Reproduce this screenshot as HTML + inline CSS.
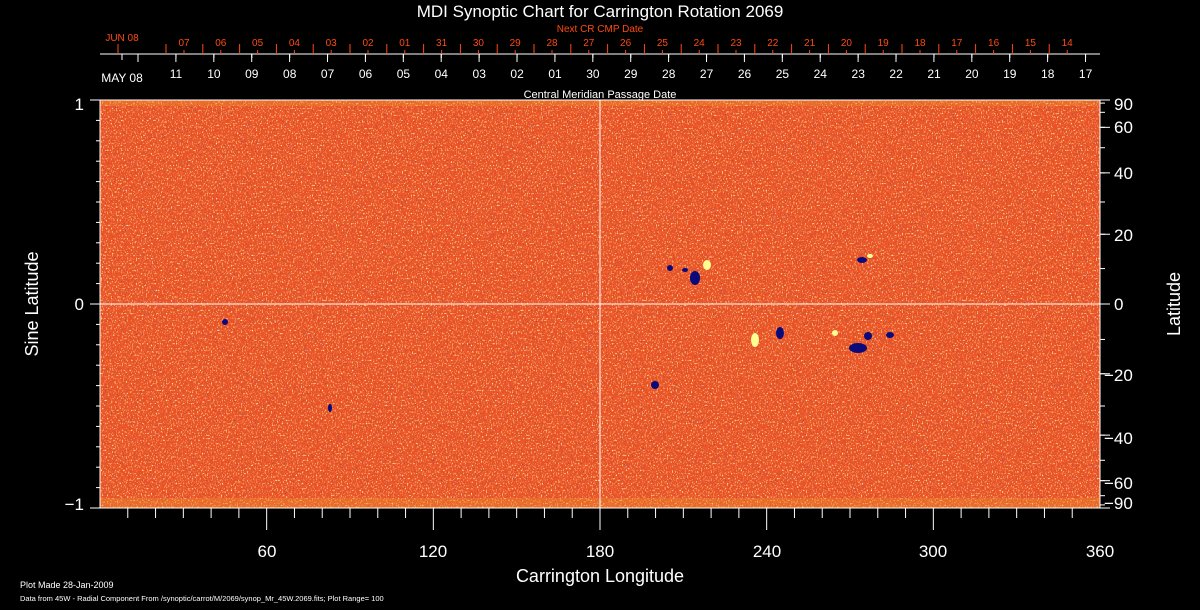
<!DOCTYPE html>
<html><head><meta charset="utf-8"><style>
html,body{margin:0;padding:0;background:#000;}
svg{display:block;font-family:"Liberation Sans",sans-serif;}
</style></head><body>
<svg width="1200" height="610" viewBox="0 0 1200 610" xmlns="http://www.w3.org/2000/svg">
<defs>
<filter id="n" x="0" y="0" width="100%" height="100%">
<feTurbulence type="fractalNoise" baseFrequency="0.6 0.4" numOctaves="2" seed="4"/>
<feColorMatrix type="matrix" values="0 0 0 0 0.85  0 0 0 0 0.1  0 0 0 0 0.03  6 0 0 0 -2.6"/>
</filter>
<filter id="y" x="0" y="0" width="100%" height="100%">
<feTurbulence type="fractalNoise" baseFrequency="0.8 0.6" numOctaves="1" seed="9"/>
<feColorMatrix type="matrix" values="0 0 0 0 1  0 0 0 0 0.8  0 0 0 0 0.3  0 5 0 0 -2.8"/>
</filter>
<filter id="b" x="0" y="0" width="100%" height="100%">
<feTurbulence type="fractalNoise" baseFrequency="0.9 0.7" numOctaves="1" seed="21"/>
<feColorMatrix type="matrix" values="0 0 0 0 0.05  0 0 0 0 0.05  0 0 0 0 0.5  0 0 6 0 -4.0"/>
</filter>
</defs>
<rect width="1200" height="610" fill="#000"/>
<text x="600" y="17" fill="#fff" font-size="17" text-anchor="middle">MDI Synoptic Chart for Carrington Rotation 2069</text>
<text x="600" y="32" fill="#ff4a10" font-size="10" text-anchor="middle">Next CR CMP Date</text>
<text x="122" y="41" fill="#ff4a10" font-size="10" text-anchor="middle">JUN 08</text>
<line x1="100" y1="54" x2="1100" y2="54" stroke="#fff"/>
<g id="gtop" fill="#ff4a10" font-size="10" text-anchor="middle"></g>
<g id="topt" stroke="#ff4a10"></g>
<g id="gbot" fill="#fff" font-size="12" text-anchor="middle"></g>
<g id="bott" stroke="#fff"></g>
<text x="122" y="82" fill="#fff" font-size="12" text-anchor="middle">MAY 08</text>
<text x="600" y="98" fill="#fff" font-size="11" text-anchor="middle">Central Meridian Passage Date</text>
<rect x="100" y="100" width="1000" height="408" fill="#e85020"/>
<rect x="100" y="100" width="1000" height="408" filter="url(#n)"/>
<rect x="100" y="100" width="1000" height="408" filter="url(#y)"/>
<rect x="100" y="100" width="1000" height="408" filter="url(#b)"/>
<rect x="100" y="100" width="1000" height="6" fill="#f0a030" opacity="0.3"/>
<rect x="100" y="498" width="1000" height="10" fill="#f0a030" opacity="0.3"/>
<g fill="#0a0a7a">
<ellipse cx="695" cy="278" rx="5" ry="7"/><ellipse cx="670" cy="268" rx="3" ry="3"/><ellipse cx="685" cy="270" rx="3" ry="2"/>
<ellipse cx="862" cy="260" rx="5" ry="3"/><ellipse cx="780" cy="333" rx="4" ry="6"/>
<ellipse cx="858" cy="348" rx="9" ry="5"/><ellipse cx="868" cy="336" rx="4" ry="4"/><ellipse cx="890" cy="335" rx="4" ry="3"/>
<ellipse cx="330" cy="408" rx="2" ry="4"/><ellipse cx="655" cy="385" rx="4" ry="4"/><ellipse cx="225" cy="322" rx="3" ry="3"/>
</g>
<g fill="#ffff90">
<ellipse cx="707" cy="265" rx="4" ry="5"/><ellipse cx="755" cy="340" rx="4" ry="7"/><ellipse cx="835" cy="333" rx="3" ry="3"/><ellipse cx="870" cy="256" rx="3" ry="2"/>
</g>
<line x1="100" y1="304" x2="1100" y2="304" stroke="#fff"/>
<line x1="600" y1="100" x2="600" y2="508" stroke="#fff"/>
<rect x="100" y="100" width="1000" height="408" fill="none" stroke="#fff"/>
<g id="ax" stroke="#fff"></g>
<g fill="#fff" font-size="17" text-anchor="end">
<text x="84" y="110">1</text><text x="84" y="310">0</text><text x="84" y="510">−1</text>
</g>
<g fill="#fff" font-size="17">
<text x="1114" y="110">90</text><text x="1114" y="133">60</text><text x="1114" y="179">40</text><text x="1114" y="241">20</text><text x="1114" y="310">0</text><text x="1104" y="381">−20</text><text x="1104" y="444">−40</text><text x="1104" y="489">−60</text><text x="1104" y="509">−90</text>
</g>
<g fill="#fff" font-size="17" text-anchor="middle">
<text x="267" y="557">60</text><text x="433" y="557">120</text><text x="600" y="557">180</text><text x="767" y="557">240</text><text x="933" y="557">300</text><text x="1100" y="557">360</text>
</g>
<text x="600" y="582" fill="#fff" font-size="18" text-anchor="middle">Carrington Longitude</text>
<text x="38" y="304" fill="#fff" font-size="18" text-anchor="middle" transform="rotate(-90 38 304)">Sine Latitude</text>
<text x="1180" y="304" fill="#fff" font-size="18" text-anchor="middle" transform="rotate(-90 1180 304)">Latitude</text>
<text x="20" y="588" fill="#fff" font-size="9">Plot Made 28-Jan-2009</text>
<text x="20" y="601" fill="#fff" font-size="7.5">Data from 45W - Radial Component From /synoptic/carrot/M/2069/synop_Mr_45W.2069.fits; Plot Range=  100</text>
<script>
(function(){
var ns="http://www.w3.org/2000/svg";
function L(g,x1,y1,x2,y2){var l=document.createElementNS(ns,"line");l.setAttribute("x1",x1);l.setAttribute("y1",y1);l.setAttribute("x2",x2);l.setAttribute("y2",y2);g.appendChild(l);}
function T(g,x,y,s){var t=document.createElementNS(ns,"text");t.setAttribute("x",x);t.setAttribute("y",y);t.textContent=s;g.appendChild(t);}
var tl=["07","06","05","04","03","02","01","31","30","29","28","27","26","25","24","23","22","21","20","19","18","17","16","15","14"];
var bl=["11","10","09","08","07","06","05","04","03","02","01","30","29","28","27","26","25","24","23","22","21","20","19","18","17"];
var gt=document.getElementById("gtop"),gtt=document.getElementById("topt"),gb=document.getElementById("gbot"),gbt=document.getElementById("bott");
L(gtt,118,44,118,54);
for(var i=0;i<25;i++){var x=184+i*36.8;T(gt,x,46,tl[i]);L(gtt,x,50,x,54);L(gtt,x-18,44,x-18,54);}
for(var i=0;i<26;i++){var x=157+i*37.9;L(gbt,x-19,54,x-19,62);}
for(var i=0;i<25;i++){var x=176+i*37.9;T(gb,x,78,bl[i]);L(gbt,x,54,x,58);}
L(gbt,122,54,122,60);
var ax=document.getElementById("ax");
for(var d=10;d<360;d+=10){var x=100+1000*d/360;L(ax,x,508,x,d%60==0?530:518);}
for(var k=-10;k<=10;k++){var y=304-k*20.4;L(ax,100,y,k%10==0?90:96,y);}
[90,60,40,20,0,-20,-40,-60,-90].forEach(function(a){var y=304-204*Math.sin(a*Math.PI/180);L(ax,1100,y,1110,y);});
for(var a=-80;a<=80;a+=10){var y=304-204*Math.sin(a*Math.PI/180);L(ax,1100,y,1105,y);}
})();
</script>
</svg>
</body></html>
